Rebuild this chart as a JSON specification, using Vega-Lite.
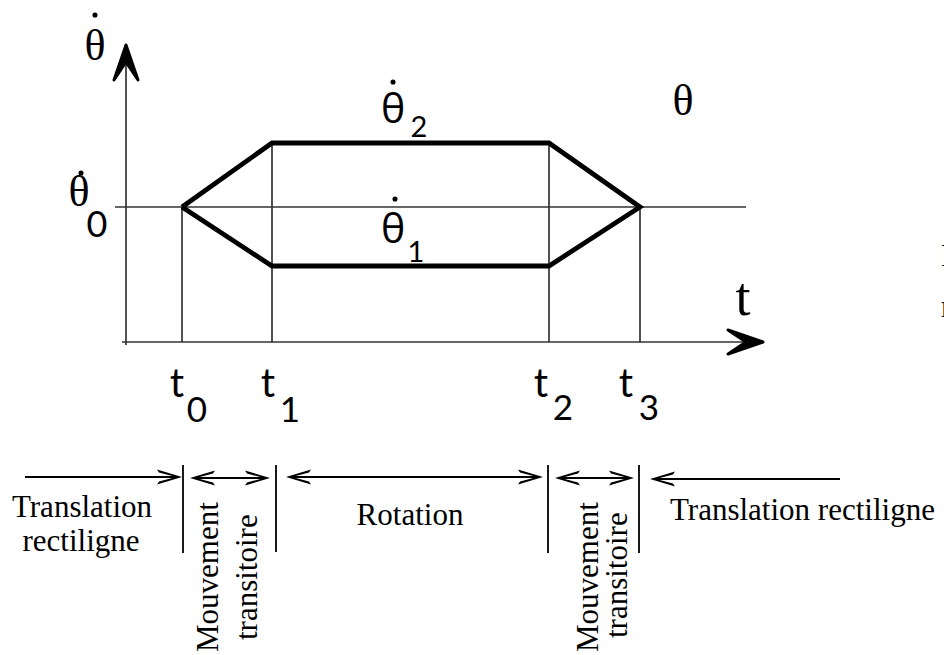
{
  "$schema": "https://vega.github.io/schema/vega-lite/v6.json",
  "width": 944,
  "height": 655,
  "autosize": {"type": "none"},
  "padding": 0,
  "background": "white",
  "config": {"view": {"stroke": null}},
  "datasets": {
    "lines": [
      {"x": 126, "y": 60, "x2": 126, "y2": 345, "kind": "axis"},
      {"x": 122, "y": 342, "x2": 745, "y2": 342, "kind": "axis"},
      {"x": 115, "y": 207, "x2": 746, "y2": 207, "kind": "axis"},
      {"x": 182, "y": 207, "x2": 182, "y2": 342, "kind": "axis"},
      {"x": 272, "y": 143, "x2": 272, "y2": 342, "kind": "axis"},
      {"x": 549, "y": 143, "x2": 549, "y2": 342, "kind": "axis"},
      {"x": 640, "y": 207, "x2": 640, "y2": 342, "kind": "axis"},
      {"x": 25, "y": 477, "x2": 178, "y2": 477, "kind": "bottom"},
      {"x": 194, "y": 478, "x2": 266, "y2": 478, "kind": "bottom"},
      {"x": 290, "y": 477, "x2": 539, "y2": 477, "kind": "bottom"},
      {"x": 559, "y": 478, "x2": 630, "y2": 478, "kind": "bottom"},
      {"x": 654, "y": 479, "x2": 840, "y2": 479, "kind": "bottom"},
      {"x": 183, "y": 465, "x2": 183, "y2": 553, "kind": "bottom"},
      {"x": 276, "y": 465, "x2": 276, "y2": 552, "kind": "bottom"},
      {"x": 548, "y": 465, "x2": 548, "y2": 553, "kind": "bottom"},
      {"x": 639, "y": 465, "x2": 639, "y2": 553, "kind": "bottom"}
    ],
    "shape": [
      {"order": 1, "x": 182, "y": 207},
      {"order": 2, "x": 272, "y": 143},
      {"order": 3, "x": 549, "y": 143},
      {"order": 4, "x": 640, "y": 207},
      {"order": 5, "x": 549, "y": 266},
      {"order": 6, "x": 272, "y": 266},
      {"order": 7, "x": 182, "y": 207}
    ],
    "heads": [
      {"x": 182, "y": 477, "dir": "right", "kind": "small"},
      {"x": 190, "y": 478, "dir": "left", "kind": "small"},
      {"x": 270, "y": 478, "dir": "right", "kind": "small"},
      {"x": 286, "y": 477, "dir": "left", "kind": "small"},
      {"x": 543, "y": 477, "dir": "right", "kind": "small"},
      {"x": 555, "y": 478, "dir": "left", "kind": "small"},
      {"x": 634, "y": 478, "dir": "right", "kind": "small"},
      {"x": 650, "y": 479, "dir": "left", "kind": "small"},
      {"x": 126, "y": 45, "dir": "up", "kind": "big"},
      {"x": 763, "y": 342, "dir": "right", "kind": "big"}
    ],
    "dots": [
      {"x": 95, "y": 15},
      {"x": 81, "y": 173},
      {"x": 393, "y": 82},
      {"x": 395, "y": 199}
    ],
    "labels": [
      {"x": 95, "y": 60, "text": "θ", "role": "thetaSerif"},
      {"x": 683, "y": 115, "text": "θ", "role": "thetaSerif"},
      {"x": 79, "y": 206, "text": "θ", "role": "theta0"},
      {"x": 97, "y": 237, "text": "0", "role": "sub0"},
      {"x": 393, "y": 123, "text": "θ", "role": "thetaSans"},
      {"x": 393, "y": 243, "text": "θ", "role": "thetaSans"},
      {"x": 419, "y": 137, "text": "2", "role": "sub12"},
      {"x": 416, "y": 262, "text": "1", "role": "sub12"},
      {"x": 743, "y": 315, "text": "t", "role": "tAxis"},
      {"x": 177, "y": 397, "text": "t", "role": "tLabel"},
      {"x": 268, "y": 397, "text": "t", "role": "tLabel"},
      {"x": 541, "y": 397, "text": "t", "role": "tLabel"},
      {"x": 626, "y": 397, "text": "t", "role": "tLabel"},
      {"x": 197, "y": 422, "text": "0", "role": "tSub"},
      {"x": 290, "y": 422, "text": "1", "role": "tSub"},
      {"x": 563, "y": 420, "text": "2", "role": "tSub"},
      {"x": 649, "y": 420, "text": "3", "role": "tSub"},
      {"x": 82, "y": 517, "text": "Translation", "role": "captionC"},
      {"x": 81, "y": 551, "text": "rectiligne", "role": "captionC"},
      {"x": 410, "y": 525, "text": "Rotation", "role": "captionC"},
      {"x": 670, "y": 520, "text": "Translation rectiligne", "role": "captionL"},
      {"x": 941, "y": 266, "text": "F", "role": "captionL"},
      {"x": 941, "y": 317, "text": "r", "role": "captionL"},
      {"x": 218, "y": 652, "text": "Mouvement", "role": "vertical"},
      {"x": 257, "y": 640, "text": "transitoire", "role": "vertical"},
      {"x": 598, "y": 652, "text": "Mouvement", "role": "vertical"},
      {"x": 627, "y": 638, "text": "transitoire", "role": "vertical"}
    ]
  },
  "encoding": {
    "x": {"field": "x", "type": "quantitative", "axis": null, "scale": {"domain": [0, 944], "nice": false, "zero": false}},
    "y": {"field": "y", "type": "quantitative", "axis": null, "scale": {"domain": [0, 655], "reverse": true, "nice": false, "zero": false}}
  },
  "layer": [
    {
      "data": {"name": "lines"},
      "transform": [{"filter": "datum.kind === 'axis'"}],
      "mark": {"type": "rule", "color": "#333333", "strokeWidth": 1.7},
      "encoding": {"x2": {"field": "x2"}, "y2": {"field": "y2"}}
    },
    {
      "data": {"name": "lines"},
      "transform": [{"filter": "datum.kind === 'bottom'"}],
      "mark": {"type": "rule", "color": "#000000", "strokeWidth": 1.8},
      "encoding": {"x2": {"field": "x2"}, "y2": {"field": "y2"}}
    },
    {
      "data": {"name": "shape"},
      "mark": {"type": "line", "color": "#000000", "strokeWidth": 4.8, "strokeJoin": "miter"},
      "encoding": {"order": {"field": "order", "type": "quantitative"}}
    },
    {
      "data": {"name": "heads"},
      "transform": [{"filter": "datum.kind === 'small' && datum.dir === 'right'"}],
      "mark": {"type": "point", "shape": "M0,0 L-25,-7.5 L-23,-4.5 L-6,0 L-23,4.5 L-25,7.5 Z", "size": 4, "filled": true, "color": "#000000", "opacity": 1, "angle": 0}
    },
    {
      "data": {"name": "heads"},
      "transform": [{"filter": "datum.kind === 'small' && datum.dir === 'left'"}],
      "mark": {"type": "point", "shape": "M0,0 L-25,-7.5 L-23,-4.5 L-6,0 L-23,4.5 L-25,7.5 Z", "size": 4, "filled": true, "color": "#000000", "opacity": 1, "angle": 180}
    },
    {
      "data": {"name": "heads"},
      "transform": [{"filter": "datum.kind === 'big' && datum.dir === 'right'"}],
      "mark": {"type": "point", "shape": "M0,0 L-35,-12 L-17,0 L-35,12 Z", "size": 4, "filled": true, "color": "#000000", "stroke": "#000000", "strokeWidth": 3, "strokeJoin": "round", "opacity": 1, "angle": 0}
    },
    {
      "data": {"name": "heads"},
      "transform": [{"filter": "datum.kind === 'big' && datum.dir === 'up'"}],
      "mark": {"type": "point", "shape": "M0,0 L-35,-12 L-17,0 L-35,12 Z", "size": 4, "filled": true, "color": "#000000", "stroke": "#000000", "strokeWidth": 3, "strokeJoin": "round", "opacity": 1, "angle": 270}
    },
    {
      "data": {"name": "dots"},
      "mark": {"type": "point", "shape": "circle", "size": 26, "filled": true, "color": "#000000", "opacity": 1}
    },
    {
      "data": {"name": "labels"},
      "transform": [{"filter": "datum.role === 'thetaSerif'"}],
      "mark": {"type": "text", "font": "Liberation Serif", "fontSize": 44, "align": "center", "baseline": "alphabetic", "color": "#000000"},
      "encoding": {"text": {"field": "text"}}
    },
    {
      "data": {"name": "labels"},
      "transform": [{"filter": "datum.role === 'theta0'"}],
      "mark": {"type": "text", "font": "Liberation Serif", "fontSize": 44, "align": "center", "baseline": "alphabetic", "color": "#000000"},
      "encoding": {"text": {"field": "text"}}
    },
    {
      "data": {"name": "labels"},
      "transform": [{"filter": "datum.role === 'sub0'"}],
      "mark": {"type": "text", "font": "Lato", "fontSize": 36, "align": "center", "baseline": "alphabetic", "color": "#000000"},
      "encoding": {"text": {"field": "text"}}
    },
    {
      "data": {"name": "labels"},
      "transform": [{"filter": "datum.role === 'thetaSans'"}],
      "mark": {"type": "text", "font": "Open Sans", "fontSize": 41, "align": "center", "baseline": "alphabetic", "color": "#000000"},
      "encoding": {"text": {"field": "text"}}
    },
    {
      "data": {"name": "labels"},
      "transform": [{"filter": "datum.role === 'sub12'"}],
      "mark": {"type": "text", "font": "Lato", "fontSize": 29, "align": "center", "baseline": "alphabetic", "color": "#000000"},
      "encoding": {"text": {"field": "text"}}
    },
    {
      "data": {"name": "labels"},
      "transform": [{"filter": "datum.role === 'tAxis'"}],
      "mark": {"type": "text", "font": "Liberation Serif", "fontSize": 54, "align": "center", "baseline": "alphabetic", "color": "#000000"},
      "encoding": {"text": {"field": "text"}}
    },
    {
      "data": {"name": "labels"},
      "transform": [{"filter": "datum.role === 'tLabel'"}],
      "mark": {"type": "text", "font": "Lato", "fontSize": 40, "align": "center", "baseline": "alphabetic", "color": "#000000"},
      "encoding": {"text": {"field": "text"}}
    },
    {
      "data": {"name": "labels"},
      "transform": [{"filter": "datum.role === 'tSub'"}],
      "mark": {"type": "text", "font": "Lato", "fontSize": 35, "align": "center", "baseline": "alphabetic", "color": "#000000"},
      "encoding": {"text": {"field": "text"}}
    },
    {
      "data": {"name": "labels"},
      "transform": [{"filter": "datum.role === 'captionC'"}],
      "mark": {"type": "text", "font": "Liberation Serif", "fontSize": 31, "align": "center", "baseline": "alphabetic", "color": "#000000"},
      "encoding": {"text": {"field": "text"}}
    },
    {
      "data": {"name": "labels"},
      "transform": [{"filter": "datum.role === 'captionL'"}],
      "mark": {"type": "text", "font": "Liberation Serif", "fontSize": 31, "align": "left", "baseline": "alphabetic", "color": "#000000"},
      "encoding": {"text": {"field": "text"}}
    },
    {
      "data": {"name": "labels"},
      "transform": [{"filter": "datum.role === 'vertical'"}],
      "mark": {"type": "text", "font": "Liberation Serif", "fontSize": 31, "align": "left", "baseline": "alphabetic", "angle": 270, "color": "#000000"},
      "encoding": {"text": {"field": "text"}}
    }
  ]
}
